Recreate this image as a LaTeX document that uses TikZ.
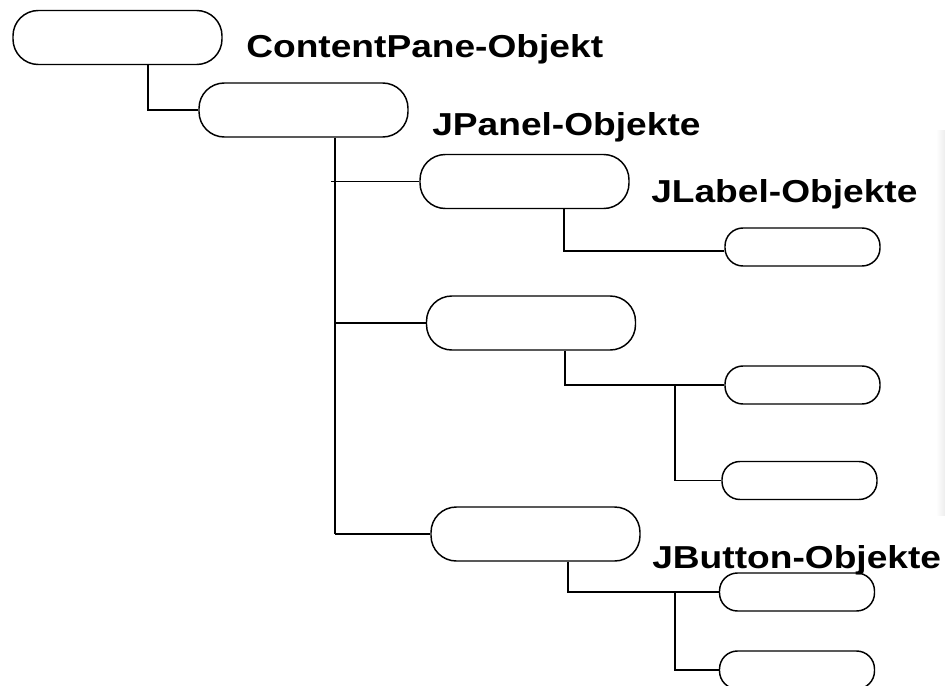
\documentclass[tikz,border=0pt]{standalone}
\usepackage{fontspec}
\setmainfont{Liberation Sans}
\newfontfamily\lblfont{Liberation Sans Bold}[FakeStretch=1.17]
\begin{document}
\begin{tikzpicture}[x=0.75pt,y=-0.75pt,
  obj/.style={draw=black, line width=1.1pt, fill=white, rectangle, inner sep=0pt},
  big/.style={obj, minimum width=156.75pt, minimum height=40.5pt, rounded corners=19pt},
  small/.style={obj, minimum width=116.25pt, minimum height=28.5pt, rounded corners=13.5pt},
  conn/.style={draw=black, line width=1.1pt},
  lbl/.style={anchor=base west, inner sep=0pt, font=\lblfont\fontsize{23.8pt}{28pt}\selectfont}]
\useasboundingbox (0,0) rectangle (945,685);
\fill[white] (0,0) rectangle (945,685);
\shade[left color=white, right color=black!7] (936,130) rectangle (945,515);

% nodes
\node[big] (root) at (117.5,37.5) {};
\node[big] (pane) at (303.5,110) {};
\node[big] (p1) at (524.5,181.5) {};
\node[big] (p2) at (531,323) {};
\node[big] (p3) at (535.5,534) {};
\node[small] (l1) at (802.5,247) {};
\node[small] (l2) at (802.5,385) {};
\node[small] (l3) at (799.5,480.5) {};
\node[small] (b1) at (797,592) {};
\node[small] (b2) at (797,670) {};

% labels
\node[lbl] (tcp) at (246,58) {ContentPane-Objekt};
\node[lbl] (tjp) at (432,135) {JPanel-Objekte};
\node[lbl] (tjl) at (651,202) {JLabel-Objekte};
\node[lbl] (tjb) at (652,568) {JButton-Objekte};

% helper coordinates
\coordinate (tr) at (335,0);
\coordinate (tr0) at (331,0);
\coordinate (c1) at (564,0);
\coordinate (c2) at (565,0);
\coordinate (c2j) at (675,0);
\coordinate (c3) at (568,0);
\coordinate (c3j) at (675,0);
\coordinate (c0) at (148,0);

% connectors
\draw[conn] (root.south -| c0) |- (pane.west);
\draw[conn] (pane.south -| tr) -- (p3.west -| tr);
\draw[conn] (p1.west -| tr0) -- (p1.west);
\draw[conn] (p2.west -| tr) -- (p2.west);
\draw[conn] (p3.west -| tr) -- (p3.west);

\draw[conn] (p1.south -| c1) |- ([yshift=-3pt]l1.west);

\draw[conn] (p2.south -| c2) |- (l2.west);
\draw[conn] (l2.west -| c2j) |- (l3.west);

\draw[conn] (p3.south -| c3) |- (b1.west);
\draw[conn] (b1.west -| c3j) |- (b2.west);
\end{tikzpicture}
\end{document}
